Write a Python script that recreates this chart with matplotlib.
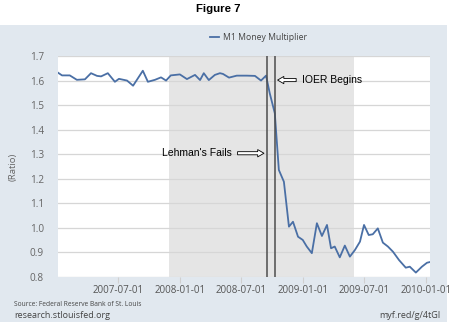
import matplotlib.pyplot as plt
import matplotlib.dates as mdates
from matplotlib.patches import Rectangle
import numpy as np

# M1 money multiplier (biweekly, ratio)
dates = [
    "2007-01-04", "2007-01-16", "2007-02-08", "2007-03-01", "2007-03-25", "2007-04-12",
    "2007-04-30", "2007-05-12", "2007-06-01", "2007-06-22", "2007-07-04", "2007-07-28",
    "2007-08-15", "2007-09-13", "2007-09-28", "2007-10-19", "2007-11-06", "2007-11-21",
    "2007-12-05", "2008-01-01", "2008-01-22", "2008-02-15", "2008-03-01", "2008-03-12",
    "2008-03-27", "2008-04-14", "2008-04-29", "2008-05-08", "2008-05-26", "2008-06-18",
    "2008-07-18", "2008-08-11", "2008-08-29", "2008-09-13", "2008-09-24", "2008-10-09",
    "2008-10-21", "2008-11-05", "2008-11-20", "2008-12-02", "2008-12-17", "2008-12-31",
    "2009-01-12", "2009-01-27", "2009-02-11", "2009-02-26", "2009-03-13", "2009-03-25",
    "2009-04-05", "2009-04-20", "2009-05-05", "2009-05-20", "2009-06-04", "2009-06-19",
    "2009-07-01", "2009-07-15", "2009-07-27", "2009-08-11", "2009-08-26", "2009-09-10",
    "2009-09-25", "2009-10-13", "2009-11-02", "2009-11-14", "2009-12-02", "2009-12-20",
    "2010-01-04", "2010-01-13",
]
multiplier = [
    1.632, 1.621, 1.621, 1.603, 1.605, 1.630,
    1.619, 1.617, 1.630, 1.595, 1.607, 1.600,
    1.579, 1.640, 1.595, 1.603, 1.613, 1.600,
    1.621, 1.625, 1.606, 1.623, 1.602, 1.630,
    1.602, 1.623, 1.630, 1.627, 1.612, 1.620,
    1.620, 1.619, 1.600, 1.620, 1.548, 1.467,
    1.236, 1.188, 1.005, 1.025, 0.964, 0.951,
    0.924, 0.897, 1.019, 0.967, 1.012, 0.917,
    0.924, 0.880, 0.928, 0.883, 0.910, 0.944,
    1.012, 0.971, 0.974, 0.998, 0.940, 0.924,
    0.903, 0.869, 0.838, 0.842, 0.818, 0.842,
    0.858, 0.861,
]

recession = ("2007-12-01", "2009-06-01")
lehman_date = "2008-09-15"
ioer_date = "2008-10-09"
xtick_dates = ["2007-07-01", "2008-01-01", "2008-07-01", "2009-01-01", "2009-07-01", "2010-01-01"]
yticks = [0.8, 0.9, 1.0, 1.1, 1.2, 1.3, 1.4, 1.5, 1.6, 1.7]

dt = np.array(dates, dtype="datetime64[D]")

fig = plt.figure(figsize=(4.5, 3.28), dpi=100)
fig.patch.set_facecolor("white")

# light blue backdrop behind the chart
fig.patches.append(Rectangle((0, 1 - 322 / 328), 447 / 450, 297 / 328,
                             transform=fig.transFigure, facecolor="#e1e8ef",
                             edgecolor="none", zorder=-5))

ax = fig.add_axes([58 / 450, 1 - 277 / 328, 372 / 450, 221 / 328])
ax.set_facecolor("white")

ax.axvspan(np.datetime64(recession[0]), np.datetime64(recession[1]),
           color="#e5e5e5", lw=0, zorder=0)
ax.plot(dt, multiplier, color="#4a6fa5", lw=1.3, zorder=3, label="M1 Money Multiplier")

for d in (lehman_date, ioer_date):
    ax.axvline(np.datetime64(d), color="#4d4d4d", lw=1.1, zorder=4)

ax.set_ylim(0.8, 1.7)
ax.set_xlim(np.datetime64("2007-01-04"), np.datetime64("2010-01-13"))
ax.set_yticks(yticks)
ax.set_yticklabels([f"{v:.1f}" for v in yticks])
ax.set_xticks([np.datetime64(d) for d in xtick_dates])
ax.xaxis.set_major_formatter(mdates.DateFormatter("%Y-%m-%d"))
ax.grid(axis="y", color="#d6d6d6", lw=0.9, zorder=1)
ax.set_axisbelow(True)
for s in ax.spines.values():
    s.set_visible(False)
ax.tick_params(axis="y", length=0, labelsize=7.2, labelcolor="#666666", pad=10)
ax.tick_params(axis="x", length=4, color="#d0d0d0", labelsize=7,
               labelcolor="#555555", pad=2)
for lab in ax.get_xticklabels() + ax.get_yticklabels():
    lab.set_family("Open Sans")

ax.set_ylabel("(Ratio)", fontsize=6.8, color="#666666", family="Open Sans", labelpad=9)

# event annotations with hollow arrows
arrow = dict(arrowstyle="simple,head_length=0.6,head_width=0.7,tail_width=0.3",
             fc="white", ec="black", lw=0.6)
ax.annotate("IOER Begins", xy=(np.datetime64(ioer_date), 1.602),
            xytext=(np.datetime64("2008-12-28"), 1.602), ha="left", va="center",
            fontsize=7.5, family="Liberation Sans", arrowprops=arrow)
ax.annotate("Lehman's Fails", xy=(np.datetime64(lehman_date), 1.304),
            xytext=(np.datetime64("2008-06-04"), 1.304), ha="right", va="center",
            fontsize=7.5, family="Liberation Sans", arrowprops=arrow)

fig.legend(loc="center", bbox_to_anchor=(0.575, 1 - 38 / 328), frameon=False,
           handlelength=1.0, handletextpad=0.5,
           prop={"family": "Open Sans", "size": 6.2}, labelcolor="#444444")

fig.text(218 / 450, 1 - 9 / 328, "Figure 7", ha="center", va="center",
         fontsize=8.2, weight="bold", family="Liberation Sans")
fig.text(14 / 450, 1 - 305 / 328, "Source: Federal Reserve Bank of St. Louis",
         ha="left", va="center", fontsize=4.8, color="#444444", family="Open Sans")
fig.text(14 / 450, 1 - 316 / 328, "research.stlouisfed.org",
         ha="left", va="center", fontsize=6.5, color="#444444", family="Open Sans")
fig.text(441 / 450, 1 - 316 / 328, "myf.red/g/4tGI",
         ha="right", va="center", fontsize=6.5, color="#444444", family="Open Sans")

fig.savefig("out.png", dpi=100)
